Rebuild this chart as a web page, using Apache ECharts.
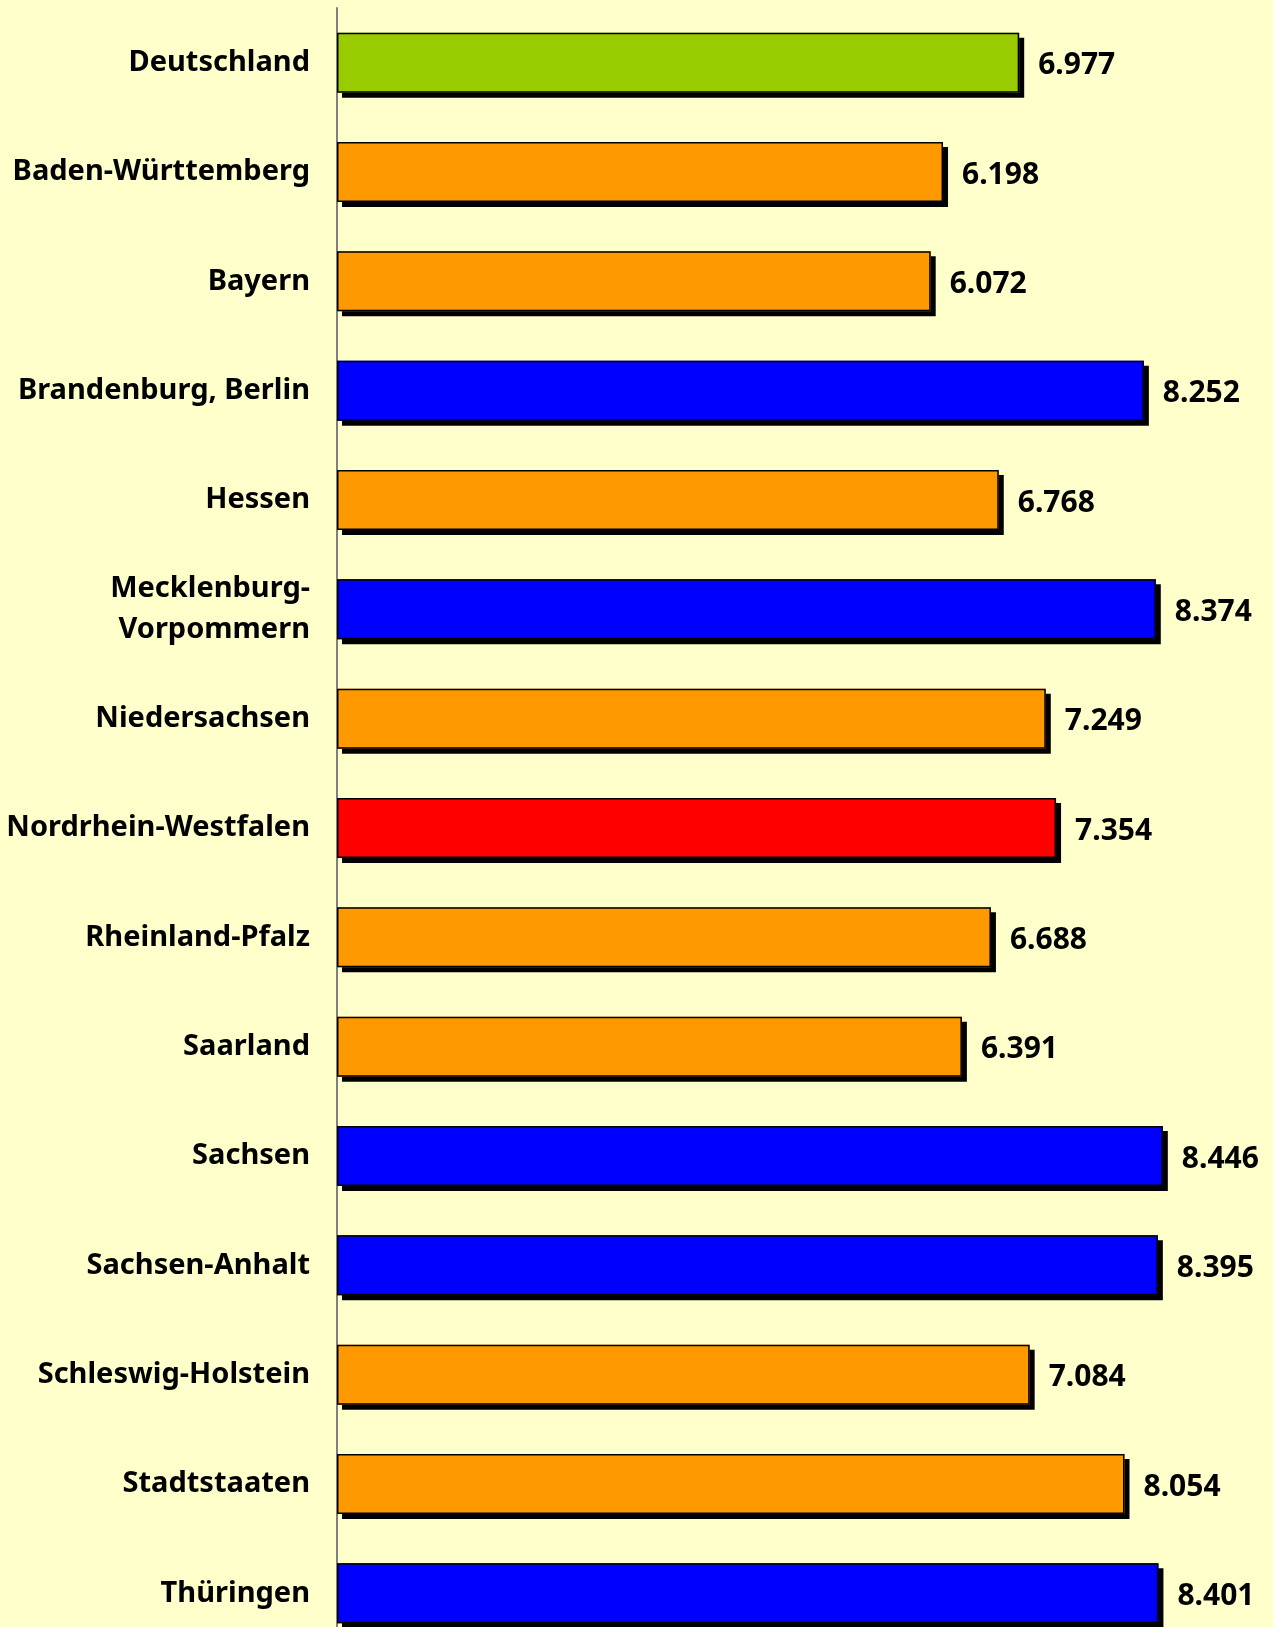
<!DOCTYPE html>
<html>
<head>
<meta charset="utf-8">
<script src="https://cdn.jsdelivr.net/npm/echarts@6/dist/echarts.min.js"></script>
<style>
  html, body { margin: 0; padding: 0; background: #FFFFCC; overflow: hidden; }
  #chart { width: 1273px; height: 1648px; }
</style>
</head>
<body>
<div id="chart"></div>
<script>
const categories = [
  "Deutschland", "Baden-Württemberg", "Bayern", "Brandenburg, Berlin", "Hessen",
  "Mecklenburg-\nVorpommern", "Niedersachsen", "Nordrhein-Westfalen", "Rheinland-Pfalz",
  "Saarland", "Sachsen", "Sachsen-Anhalt", "Schleswig-Holstein", "Stadtstaaten", "Thüringen"
];
const values = [6.977, 6.198, 6.072, 8.252, 6.768, 8.374, 7.249, 7.354, 6.688, 6.391, 8.446, 8.395, 7.084, 8.054, 8.401];
const barColors = [
  "#99CC00", "#FF9900", "#FF9900", "#0000FF", "#FF9900",
  "#0000FF", "#FF9900", "#FF0000", "#FF9900", "#FF9900",
  "#0000FF", "#0000FF", "#FF9900", "#FF9900", "#0000FF"
];

// chart is a bit taller than the window: the last band runs off the bottom edge
const chart = echarts.init(document.getElementById("chart"));

const option = {
  backgroundColor: "#FFFFCC",
  animation: false,
  grid: {
    left: 337,
    top: 8,
    right: 56,
    bottom: 0,
    containLabel: false
  },
  xAxis: {
    type: "value",
    min: 0,
    max: 9,
    show: false
  },
  yAxis: {
    type: "category",
    inverse: true,
    data: categories,
    axisTick: { show: false },
    axisLine: { show: true, lineStyle: { color: "#808080", width: 2 } },
    axisLabel: {
      margin: 27,
      padding: [6, 0, 0, 0],
      fontFamily: "Noto Sans",
      fontWeight: "bold",
      fontSize: 29,
      color: "#000",
      lineHeight: 41,
      align: "right"
    },
    splitLine: { show: false }
  },
  series: [
    {
      // filled bars with the black drop shadow
      type: "bar",
      barWidth: 60,
      z: 2,
      data: values.map((v, i) => ({
        value: v,
        itemStyle: { color: barColors[i] }
      })),
      itemStyle: {
        borderWidth: 0,
        shadowColor: "#000",
        shadowOffsetX: 5,
        shadowOffsetY: 5,
        shadowBlur: 0
      }
    },
    {
      // outline on top, no shadow
      type: "bar",
      barWidth: 60,
      barGap: "-100%",
      z: 3,
      data: values,
      itemStyle: {
        color: "rgba(0,0,0,0)",
        borderColor: "#000",
        borderWidth: 1.5
      },
      label: {
        show: true,
        position: "right",
        distance: 19,
        offset: [0, 3],
        formatter: p => p.value.toFixed(3),
        fontFamily: "Noto Sans",
        fontWeight: "bold",
        fontSize: 30,
        color: "#000"
      }
    }
  ]
};

chart.setOption(option);
</script>
</body>
</html>
